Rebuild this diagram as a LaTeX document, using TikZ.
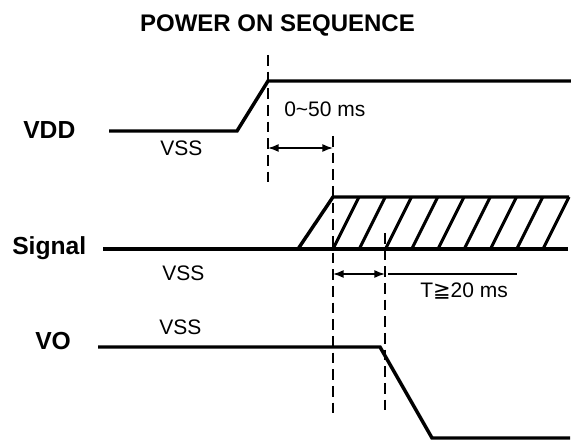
\documentclass[tikz,border=0pt]{standalone}
\usepackage{fontspec}
\setmainfont{Liberation Sans}
\newfontfamily\symfont{DejaVu Sans}
\usetikzlibrary{arrows.meta}

\tikzset{
  wave/.style={line width=2.6pt, line join=miter},
  hatch/.style={line width=2.2pt},
  guide/.style={line width=1.1pt, dash pattern=on 8pt off 4.5pt},
  span/.style={line width=1.1pt, {Latex[length=8pt,width=6pt]}-{Latex[length=8pt,width=6pt]}},
  rowname/.style={font=\fontsize{18.5}{20}\selectfont\bfseries, anchor=base west, inner sep=0pt},
  levtext/.style={font=\fontsize{15.75}{18}\selectfont, anchor=base west, inner sep=0pt},
}

\begin{document}
\begin{tikzpicture}[x=0.75pt, y=-0.75pt]
        \useasboundingbox (0,0) rectangle (571,441);

        % title
        \node[rowname, anchor=base, font=\fontsize{18}{20}\selectfont\bfseries] (title) at (277.5,32) {POWER ON SEQUENCE};

        % signal names
        \node[rowname] (vdd) at (23,139) {VDD};
        \node[rowname] (sig) at (12,255) {Signal};
        \node[rowname] (vo) at (35,350) {VO};

        % low levels
        \node[levtext] (vssa) at (160,156) {VSS};
        \node[levtext] (vssb) at (162,281) {VSS};
        \node[levtext] (vssc) at (159,335) {VSS};

        % timing text
        \node[levtext] (tdelay) at (284,117) {0\textasciitilde50 ms};
        \node[levtext] (thold) at (420,298) {T{\symfont ≧}20 ms};

        % VDD
        \draw[wave] (109,131) -- (237,131) -- (268,81) -- (571,81);

        % Signal
        \draw[wave] (103,249) -- (568,249);
        \draw[wave] (298,249) -- (333,197) -- (569,197);
        \foreach \i in {0,...,8}
            \draw[hatch] (333+26.25*\i,249) -- (359+26.25*\i,197);

        % VO
        \draw[wave] (98,347) -- (380,347) -- (432,438) -- (570,438);

        % dashed marks
        \draw[guide] (268,55) -- (268,185);
        \draw[guide] (333,136) -- (333,413);
        \draw[guide] (385,233) -- (385,413);

        % spans
        \coordinate (ona) at (268,148);
        \coordinate (onb) at (333,148);
        \draw[span] (ona) -- (onb);
        \coordinate (offa) at (333,274);
        \coordinate (offb) at (385,274);
        \draw[span] (offa) -- (offb);
        \coordinate (tlinea) at (388,274);
        \coordinate (tlineb) at (517,274);
        \draw[line width=0.8pt] (tlinea) -- (tlineb);
    \end{tikzpicture}
\end{document}
